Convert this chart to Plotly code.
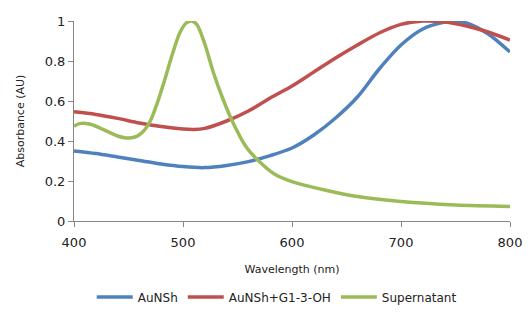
import plotly.graph_objects as go

wl_aunsh = [400, 420, 440, 460, 480, 500, 520, 540, 560, 580, 600, 620, 640, 660, 680, 700, 720, 740, 750, 760, 780, 800]
abs_aunsh = [0.35, 0.337, 0.32, 0.303, 0.285, 0.272, 0.267, 0.278, 0.297, 0.327, 0.365, 0.43, 0.515, 0.62, 0.76, 0.88, 0.96, 0.995, 1.0, 0.99, 0.935, 0.845]

wl_g13 = [400, 420, 440, 460, 480, 500, 510, 520, 540, 560, 580, 600, 620, 640, 660, 680, 700, 720, 740, 760, 780, 800]
abs_g13 = [0.546, 0.533, 0.513, 0.49, 0.472, 0.46, 0.458, 0.463, 0.5, 0.55, 0.615, 0.675, 0.745, 0.815, 0.88, 0.94, 0.983, 1.0, 0.995, 0.975, 0.945, 0.905]

wl_sup = [400, 405, 415, 425, 440, 448, 456, 463, 470, 477, 484, 490, 497, 503, 508, 513, 520, 528, 537, 546, 558, 570, 583, 600, 630, 660, 700, 750, 800]
abs_sup = [0.474, 0.487, 0.484, 0.462, 0.425, 0.415, 0.42, 0.445, 0.5, 0.6, 0.72, 0.83, 0.94, 0.99, 1.0, 0.98, 0.885, 0.74, 0.605, 0.49, 0.37, 0.297, 0.238, 0.197, 0.155, 0.122, 0.097, 0.08, 0.073]

series_names = ["AuNSh", "AuNSh+G1-3-OH", "Supernatant"]
colors = ["#4F81BD", "#C0504D", "#9BBB59"]

x_ticks = [400, 500, 600, 700, 800]
y_ticks = [0, 0.2, 0.4, 0.6, 0.8, 1]
y_tick_labels = ["0", "0.2", "0.4", "0.6", "0.8", "1"]

fig = go.Figure()
for name, xs, ys, c in zip(series_names, [wl_aunsh, wl_g13, wl_sup], [abs_aunsh, abs_g13, abs_sup], colors):
    fig.add_trace(go.Scatter(x=xs, y=ys, mode="lines", name=name,
                             line=dict(color=c, width=3.5, shape="spline", smoothing=0.8)))

axis_common = dict(showgrid=False, zeroline=False, showline=True, linecolor="#868686", linewidth=1,
                   ticks="outside", ticklen=5, tickcolor="#868686", automargin=False,
                   tickfont=dict(family="DejaVu Sans", size=13, color="#222222"))

fig.update_layout(
    width=523, height=316,
    margin=dict(l=66, r=21, t=13, b=103, autoexpand=False),
    paper_bgcolor="white", plot_bgcolor="white",
    font=dict(family="DejaVu Sans", color="#222222"),
    xaxis=dict(range=[400, 800], tickvals=x_ticks, ticktext=[str(v) for v in x_ticks],
               ticklabelstandoff=4,
               title=dict(text="Wavelength (nm)", font=dict(size=11), standoff=16), **axis_common),
    yaxis=dict(range=[0, 1], tickvals=y_ticks, ticktext=y_tick_labels,
               title=dict(text="Absorbance (AU)", font=dict(size=11), standoff=17), **axis_common),
    legend=dict(orientation="h", x=0.465, xanchor="center", y=-0.38, yanchor="middle",
                font=dict(size=12, family="DejaVu Sans"), itemwidth=36, tracegroupgap=0),
    showlegend=True,
)

fig.write_html("out.html")
